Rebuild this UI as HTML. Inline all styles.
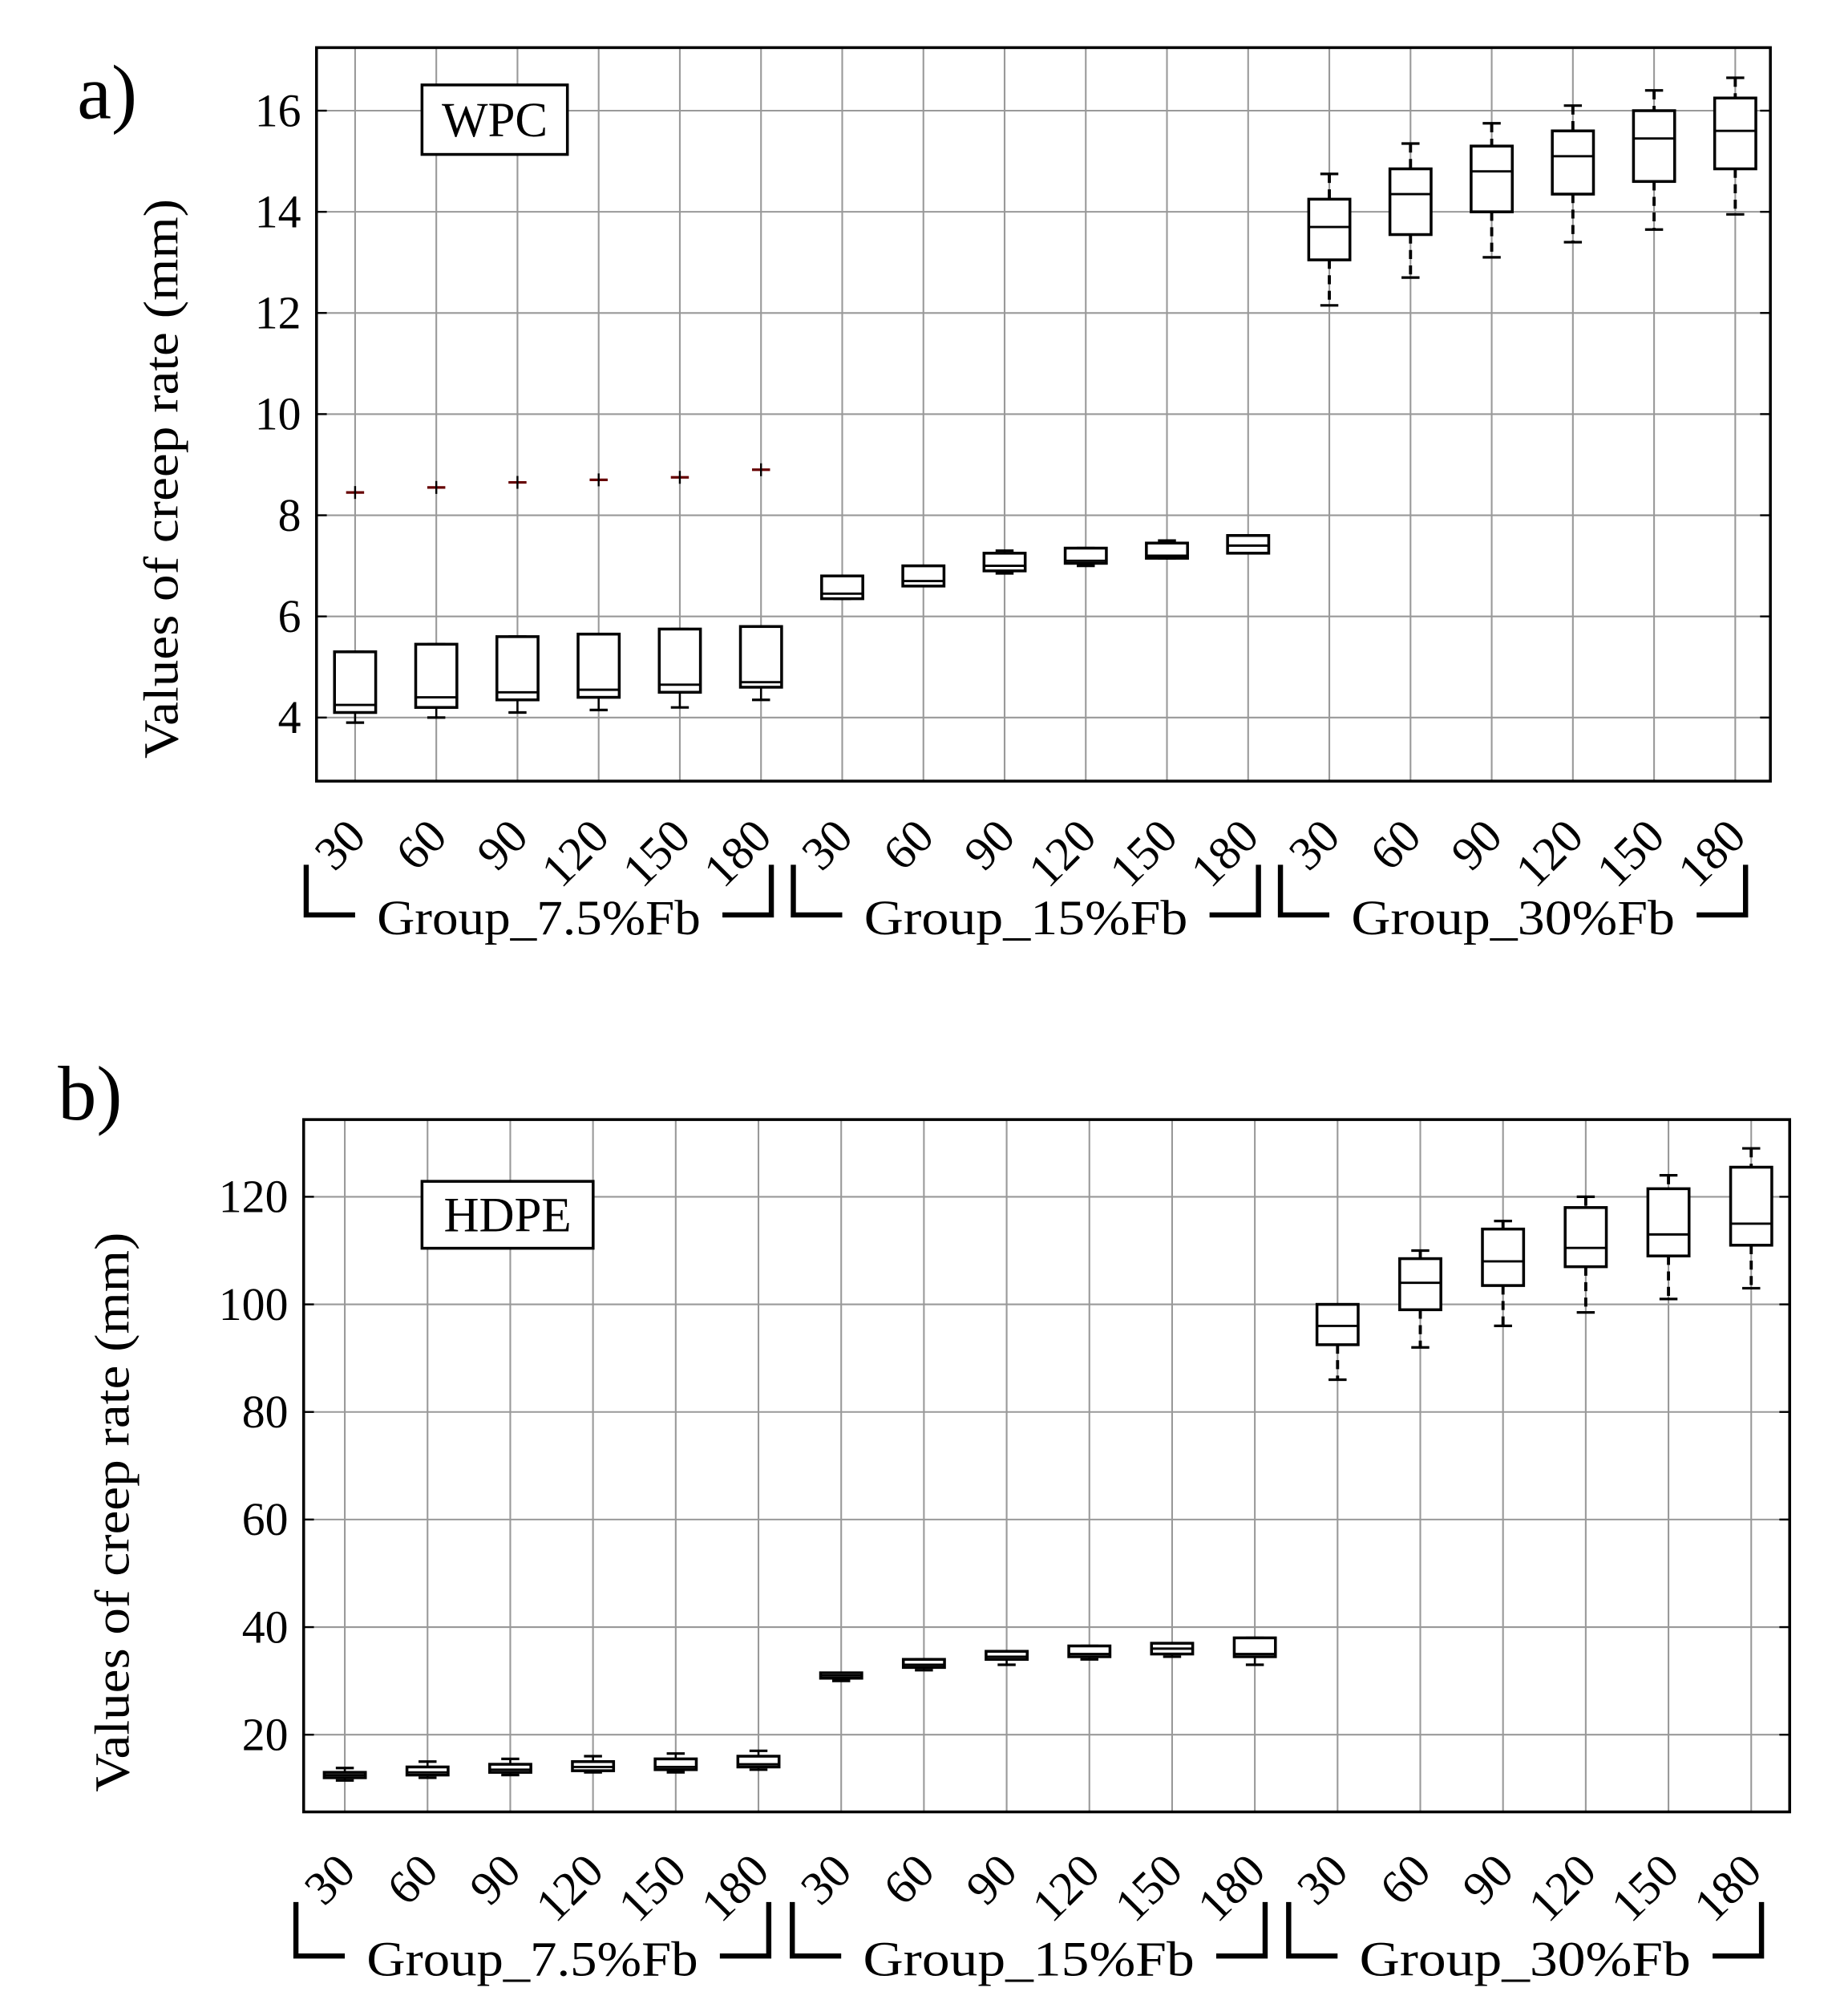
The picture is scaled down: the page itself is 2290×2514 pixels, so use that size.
<!DOCTYPE html>
<html><head><meta charset="utf-8"><style>html,body{margin:0;padding:0;background:#fff}svg{display:block}</style></head>
<body>
<svg id="s" xmlns="http://www.w3.org/2000/svg" width="2290" height="2514" viewBox="0 0 1427 1566.6" preserveAspectRatio="none" font-family="Liberation Serif, serif"></svg>
<script>
const s=document.getElementById('s');let h='<rect width="1430" height="1570" fill="#fff"/>';
function panel(o){
 const {L,R,T,B,xs,yf,ticks,data,label,lx,ly,legend,lgx,lgy,lgw,lgh,ylabY,ylabX,tickLY,brY,brT}=o;
 ticks.forEach(t=>{const y=yf(t);h+=`<line x1="${L}" x2="${R}" y1="${y}" y2="${y}" stroke="#999" stroke-width="1.3"/>`;
  h+=`<line x1="${L}" x2="${L+8}" y1="${y}" y2="${y}" stroke="#000" stroke-width="1.5"/><line x1="${R-8}" x2="${R}" y1="${y}" y2="${y}" stroke="#000" stroke-width="1.5"/>`;
  h+=`<text x="${L-12}" y="${y+12}" font-size="36" text-anchor="end">${t}</text>`;});
 xs.forEach(x=>{h+=`<line x1="${x}" x2="${x}" y1="${T}" y2="${B}" stroke="#999" stroke-width="1.3"/>`;});
 h+=`<rect x="${L}" y="${T}" width="${R-L}" height="${B-T}" fill="none" stroke="#000" stroke-width="2.2"/>`;
 data.forEach((d,i)=>{const x=xs[i],w=16,g=i>=12;const [lo,q1,md,q3,hi,out]=d;
  const dash=g?'stroke-dasharray="7,5"':'';const sw=g?2.4:1.6;
  h+=`<line x1="${x}" x2="${x}" y1="${yf(hi)}" y2="${yf(q3)}" stroke="#000" stroke-width="${sw}" ${dash}/>`;
  h+=`<line x1="${x}" x2="${x}" y1="${yf(q1)}" y2="${yf(lo)}" stroke="#000" stroke-width="${sw}" ${dash}/>`;
  h+=`<line x1="${x-7}" x2="${x+7}" y1="${yf(hi)}" y2="${yf(hi)}" stroke="#000" stroke-width="2"/>`;
  h+=`<line x1="${x-7}" x2="${x+7}" y1="${yf(lo)}" y2="${yf(lo)}" stroke="#000" stroke-width="2"/>`;
  h+=`<rect x="${x-w}" y="${yf(q3)}" width="${2*w}" height="${Math.max(yf(q1)-yf(q3),3)}" fill="#fff" stroke="#000" stroke-width="2.2"/>`;
  h+=`<line x1="${x-w}" x2="${x+w}" y1="${yf(md)}" y2="${yf(md)}" stroke="#000" stroke-width="1.8"/>`;
  if(out){const y=yf(out);h+=`<line x1="${x-7}" x2="${x+7}" y1="${y}" y2="${y}" stroke="#600" stroke-width="2"/><line x1="${x}" x2="${x}" y1="${y-5}" y2="${y+5}" stroke="#000" stroke-width="1.5"/>`;}
 });
 const v=[30,60,90,120,150,180];
 xs.forEach((x,i)=>{h+=`<text transform="translate(${x+10},${tickLY}) rotate(-45)" font-size="37" text-anchor="end">${v[i%6]}</text>`;});
 const gn=['Group_7.5%Fb','Group_15%Fb','Group_30%Fb'];
 for(let g=0;g<3;g++){const a=xs[g*6]-38,b=xs[g*6+5]+8,c=(a+b)/2;
  h+=`<polyline points="${a},${brT} ${a},${brY} ${a+38},${brY}" fill="none" stroke="#000" stroke-width="4"/>`;
  h+=`<polyline points="${b-38},${brY} ${b},${brY} ${b},${brT}" fill="none" stroke="#000" stroke-width="4"/>`;
  h+=`<text x="${c}" y="${brY+15}" font-size="38" text-anchor="middle" textLength="${b-a-110}" lengthAdjust="spacingAndGlyphs">${gn[g]}</text>`;}
 h+=`<text x="${lx}" y="${ly}" font-size="60">${label}</text>`;
 h+=`<rect x="${lgx}" y="${lgy}" width="${lgw}" height="${lgh}" fill="#fff" stroke="#000" stroke-width="2.2"/>`;
 h+=`<text x="${lgx+lgw/2}" y="${lgy+lgh/2+13}" font-size="38" text-anchor="middle">${legend}</text>`;
 h+=`<text transform="translate(${ylabX},${ylabY}) rotate(-90)" font-size="38" text-anchor="middle" textLength="435" lengthAdjust="spacingAndGlyphs">Values of creep rate (mm)</text>`;
}
const xa=[...Array(18)].map((_,i)=>276+i*63.1);
panel({L:246,R:1376,T:37,B:607,xs:xa,yf:v=>86+(16-v)*39.3,ticks:[4,6,8,10,12,14,16],label:'a)',lx:60,ly:92,legend:'WPC',lgx:328,lgy:66,lgw:113,lgh:54,ylabX:138,ylabY:372,tickLY:652,brY:711,brT:672,
data:[[3.9,4.1,4.25,5.3,5.3,8.45],[4.0,4.2,4.4,5.45,5.45,8.55],[4.1,4.35,4.5,5.6,5.6,8.65],[4.15,4.4,4.55,5.65,5.65,8.7],[4.2,4.5,4.65,5.75,5.75,8.75],[4.35,4.6,4.7,5.8,5.8,8.9],
[6.35,6.35,6.45,6.8,6.8],[6.6,6.6,6.7,7.0,7.0],[6.85,6.9,7.0,7.25,7.3],[7.0,7.05,7.1,7.35,7.35],[7.15,7.15,7.2,7.45,7.5],[7.25,7.25,7.4,7.6,7.6],
[12.15,13.05,13.7,14.25,14.75],[12.7,13.55,14.35,14.85,15.35],[13.1,14.0,14.8,15.3,15.75],[13.4,14.35,15.1,15.6,16.1],[13.65,14.6,15.45,16.0,16.4],[13.95,14.85,15.6,16.25,16.65]]});
const xb=[...Array(18)].map((_,i)=>268+i*64.3);
panel({L:236,R:1391,T:870,B:1408,xs:xb,yf:v=>1348-(v-20)*4.18,ticks:[20,40,60,80,100,120],label:'b)',lx:45,ly:870,legend:'HDPE',lgx:328,lgy:918,lgw:133,lgh:52,ylabX:100,ylabY:1175,tickLY:1456,brY:1520,brT:1478,
data:[[11.5,12,12.5,13,13.8],[12,12.5,13,14,15],[12.5,13,13.5,14.5,15.5],[13,13.3,14,15,16],[13,13.5,14,15.5,16.5],[13.5,14,14.5,16,17],
[30,30.5,31,31.5,31.5],[32,32.5,33,34,34],[33,34,34.5,35.5,35.5],[34,34.5,35,36.5,36.5],[34.5,35,36,37,37],[33,34.5,35,38,38],
[86,92.5,96,100,100],[92,99,104,108.5,110],[96,103.5,108,114,115.5],[98.5,107,110.5,118,120],[101,109,113,121.5,124],[103,111,115,125.5,129]]});
s.innerHTML=h;
</script>
</body></html>
